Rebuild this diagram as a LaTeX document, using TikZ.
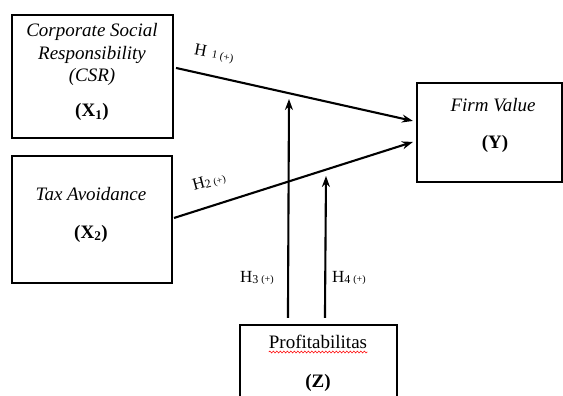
\documentclass[tikz,border=0pt]{standalone}
\usepackage{fontspec}
\setmainfont{Liberation Serif}
\usetikzlibrary{arrows.meta,calc,decorations.pathmorphing}
\begin{document}
\begin{tikzpicture}[x=1pt,y=-1pt,
  box/.style={draw,line width=2.1pt,rectangle,inner sep=0pt},
  arr/.style={line width=2.1pt,-{Stealth[length=11pt,width=8pt]}},
  lbl/.style={inner sep=0pt,anchor=base},
  main/.style={font=\fontsize{19}{22.5}\selectfont},
  hfont/.style={font=\fontsize{17}{17}\selectfont},
]
\useasboundingbox (0,0) rectangle (563,396);
\fill[white] (0,0) rectangle (563,396);
% boxes
\node[box,minimum width=161pt,minimum height=123pt] (X1) at (92.5,76.5) {};
\node[box,minimum width=160pt,minimum height=127pt] (X2) at (92,219.5) {};
\node[box,minimum width=145pt,minimum height=99pt] (Y) at (489.5,132.5) {};
\begin{scope}
\clip (0,0) rectangle (563,396);
\node[box,minimum width=157pt,minimum height=86pt] (Z) at (318.5,368) {};
\end{scope}
% texts
\node[lbl,main] (t1) at (92,37) {\itshape Corporate Social};
\node[lbl,main] (t2) at (92,60) {\itshape Responsibility};
\node[lbl,main] (t3) at (92,82) {\itshape (CSR)};
\node[lbl,main] (t4) at (92,117) {\bfseries (X\textsubscript{1})};
\node[lbl,main] (t5) at (91,200) {\itshape Tax Avoidance};
\node[lbl,main] (t6) at (91,238) {\bfseries (X\textsubscript{2})};
\node[lbl,main] (t7) at (493,112) {\itshape Firm Value};
\node[lbl,main] (t8) at (495,148) {\bfseries (Y)};
\node[lbl,main] (t9) at (318,348) {Profitabilitas};
\node[lbl,main] (t10) at (318,387) {\bfseries (Z)};
\draw[red,line width=0.6pt,decorate,decoration={snake,amplitude=0.9pt,segment length=3.5pt}]
  ($(t9.base west)+(0,4)$) -- ($(t9.base east)+(0,4)$);
% connectors
\coordinate (h3s) at ($(Z.north west)+(49,-6)$);
\coordinate (h3e) at (289,99);
\coordinate (h4s) at ($(Z.north west)+(86,-6)$);
\coordinate (h4e) at (326,176);
\draw[arr] ($(X1.north east)+(2,54)$) -- ($(Y.north west)+(-3,39)$);
\draw[arr] ($(X2.north east)+(1,63)$) -- ($(Y.north west)+(-3,60)$);
\draw[arr] (h3s) -- (h3e);
\draw[arr] (h4s) -- (h4e);
% hypothesis labels
\node[hfont,inner sep=0pt,rotate=-11] (L1) at (214,54) {H\,\,{\fontsize{11}{11}\selectfont 1 (+)}};
\node[hfont,inner sep=0pt,rotate=15] (L2) at (209,182) {H\raisebox{-1pt}{\fontsize{12}{12}\selectfont 2}\,{\fontsize{10}{10}\selectfont (+)}};
\node[hfont,inner sep=0pt,anchor=base west] (L3) at (240,282) {H\raisebox{-1pt}{\fontsize{12}{12}\selectfont 3}\,{\fontsize{10}{10}\selectfont (+)}};
\node[hfont,inner sep=0pt,anchor=base west] (L4) at (332,282) {H\raisebox{-1pt}{\fontsize{12}{12}\selectfont 4}\,{\fontsize{10}{10}\selectfont (+)}};
\end{tikzpicture}
\end{document}
